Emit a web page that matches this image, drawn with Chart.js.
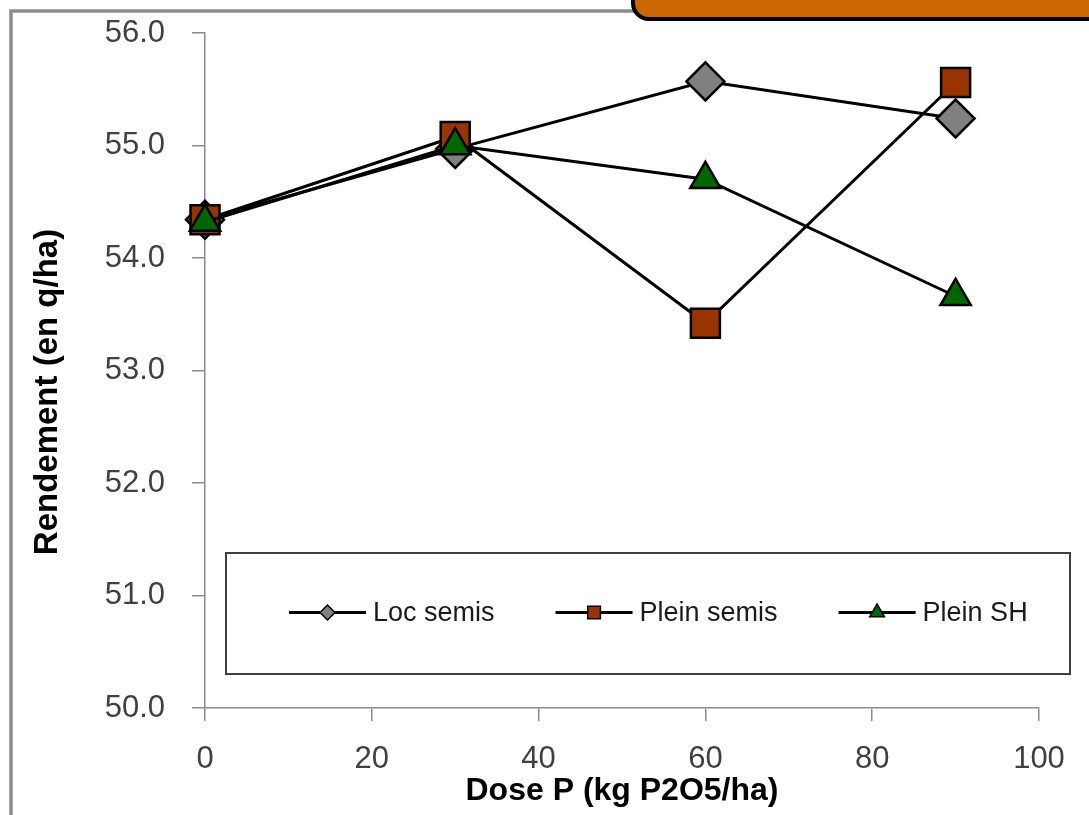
<!DOCTYPE html>
<html>
<head>
<meta charset="utf-8">
<title>Rendement selon la dose P</title>
<script src="https://cdn.jsdelivr.net/npm/chart.js@4.4.1/dist/chart.umd.min.js"></script>
<style>
    html, body { margin: 0; padding: 0; background: #fff; }
    canvas { display: block; }
</style>
</head>
<body>
<canvas id="doseChart" width="1089" height="815"></canvas>
<script>
// Doses (kg P2O5/ha) and yields (q/ha)
const doses = [0, 30, 60, 90];
const locSemis = [54.34, 54.97, 55.57, 55.24];
const pleinSemis = [54.34, 55.08, 53.42, 55.56];
const pleinSH = [54.32, 55.0, 54.70, 53.66];

const yTicks = [50, 51, 52, 53, 54, 55, 56];
const xTicks = [0, 20, 40, 60, 80, 100];

const FONT = "'Liberation Sans', Arial, sans-serif";
const AXIS_GREY = '#8c8c8c';
const Y_TITLE = 'Rendement (en q/ha)';

function toPoints(values) {
    return doses.map((d, i) => ({ x: d, y: values[i] }));
}

// Frame, orange header box at the top right, and the y title (sits a bit low)
const framePlugin = {
    id: 'frame',
    beforeDraw(chart) {
        const ctx = chart.ctx;
        ctx.save();
        ctx.fillStyle = '#fff';
        ctx.fillRect(0, 0, chart.width, chart.height);
        ctx.strokeStyle = AXIS_GREY;
        ctx.lineWidth = 3.5;
        ctx.beginPath();
        ctx.moveTo(11, chart.height + 5);
        ctx.lineTo(11, 11);
        ctx.lineTo(640, 11);
        ctx.stroke();

        ctx.fillStyle = '#cc6600';
        ctx.strokeStyle = '#000';
        ctx.lineWidth = 4;
        ctx.beginPath();
        ctx.roundRect(633, -40, 520, 59, 16);
        ctx.fill();
        ctx.stroke();

        ctx.translate(48, 392);
        ctx.rotate(-Math.PI / 2);
        ctx.fillStyle = '#000';
        ctx.font = 'bold 33px ' + FONT;
        ctx.textAlign = 'center';
        ctx.textBaseline = 'middle';
        ctx.fillText(Y_TITLE, 0, 0);
        ctx.restore();
    }
};

// Boxed legend inside the plot area
const boxLegendPlugin = {
    id: 'boxLegend',
    afterDraw(chart) {
        const ctx = chart.ctx;
        const box = { left: 226, top: 553, right: 1070, bottom: 674 };
        const lineLen = 77;
        const gap = 7;
        const itemGap = 61;
        const markerSize = [7.5, 9, 8.5];

        ctx.save();
        ctx.strokeStyle = '#404040';
        ctx.lineWidth = 2;
        ctx.strokeRect(box.left, box.top, box.right - box.left, box.bottom - box.top);

        ctx.font = '27px ' + FONT;
        const sets = chart.data.datasets;
        const widths = sets.map(ds => ctx.measureText(ds.label).width);

        let x = 289;
        const y = (box.top + box.bottom) / 2 - 1;
        sets.forEach((ds, i) => {
            ctx.strokeStyle = '#000';
            ctx.lineWidth = 3;
            ctx.beginPath();
            ctx.moveTo(x, y);
            ctx.lineTo(x + lineLen, y);
            ctx.stroke();

            ctx.fillStyle = ds.pointBackgroundColor;
            ctx.strokeStyle = '#000';
            ctx.lineWidth = 1.5;
            Chart.helpers.drawPoint(ctx, {
                pointStyle: ds.pointStyle,
                radius: markerSize[i],
                rotation: 0,
                borderWidth: 1.5
            }, x + lineLen / 2, y);

            ctx.fillStyle = '#1a1a1a';
            ctx.textAlign = 'left';
            ctx.textBaseline = 'middle';
            ctx.fillText(ds.label, x + lineLen + gap, y + 1);
            x += lineLen + gap + widths[i] + itemGap;
        });
        ctx.restore();
    }
};

const ctx = document.getElementById('doseChart').getContext('2d');
const doseChart = new Chart(ctx, {
    type: 'line',
    data: {
        datasets: [
            {
                label: 'Loc semis',
                data: toPoints(locSemis),
                borderColor: '#000',
                borderWidth: 3,
                pointStyle: 'rectRot',
                pointRadius: 19,
                pointHoverRadius: 19,
                pointBackgroundColor: '#808080',
                pointBorderColor: '#000',
                pointBorderWidth: 2.5,
                clip: false,
                order: 3
            },
            {
                label: 'Plein semis',
                data: toPoints(pleinSemis),
                borderColor: '#000',
                borderWidth: 3,
                pointStyle: 'rect',
                pointRadius: 20.5,
                pointHoverRadius: 20.5,
                pointBackgroundColor: '#993300',
                pointBorderColor: '#000',
                pointBorderWidth: 2.5,
                clip: false,
                order: 2
            },
            {
                label: 'Plein SH',
                data: toPoints(pleinSH),
                borderColor: '#000',
                borderWidth: 3,
                pointStyle: 'triangle',
                pointRadius: 17.5,
                pointHoverRadius: 17.5,
                pointBackgroundColor: '#006600',
                pointBorderColor: '#000',
                pointBorderWidth: 2.5,
                clip: false,
                order: 1
            }
        ]
    },
    options: {
        responsive: false,
        animation: false,
        layout: {
            padding: { left: 24, top: 33, right: 50, bottom: 0 }
        },
        plugins: {
            legend: { display: false },
            tooltip: { enabled: false }
        },
        scales: {
            x: {
                type: 'linear',
                min: 0,
                max: 100,
                afterBuildTicks(scale) {
                    scale.ticks = xTicks.map(v => ({ value: v }));
                },
                afterFit(scale) {
                    scale.height = 107;
                    scale.paddingLeft = 0;
                    scale.paddingRight = 0;
                },
                grid: {
                    drawOnChartArea: false,
                    drawTicks: true,
                    tickLength: 13,
                    color: AXIS_GREY,
                    lineWidth: 1.5
                },
                border: { color: AXIS_GREY, width: 1.5 },
                ticks: {
                    padding: 20,
                    color: '#404040',
                    font: { family: FONT, size: 31 },
                    maxRotation: 0
                },
                title: {
                    display: true,
                    text: 'Dose P (kg P2O5/ha)',
                    color: '#000',
                    font: { family: FONT, size: 32, weight: 'bold' },
                    padding: { top: 0, bottom: 5 }
                }
            },
            y: {
                min: 50,
                max: 56,
                afterBuildTicks(scale) {
                    scale.ticks = yTicks.map(v => ({ value: v }));
                },
                afterFit(scale) {
                    scale.width = 181;
                    scale.paddingTop = 0;
                    scale.paddingBottom = 0;
                },
                grid: {
                    drawOnChartArea: false,
                    drawTicks: true,
                    tickLength: 13,
                    color: AXIS_GREY,
                    lineWidth: 1.5
                },
                border: { color: AXIS_GREY, width: 1.5 },
                ticks: {
                    padding: 27,
                    color: '#404040',
                    font: { family: FONT, size: 31 },
                    callback: v => Number(v).toFixed(1)
                },
                title: { display: false }
            }
        }
    },
    plugins: [framePlugin, boxLegendPlugin]
});
</script>
</body>
</html>
